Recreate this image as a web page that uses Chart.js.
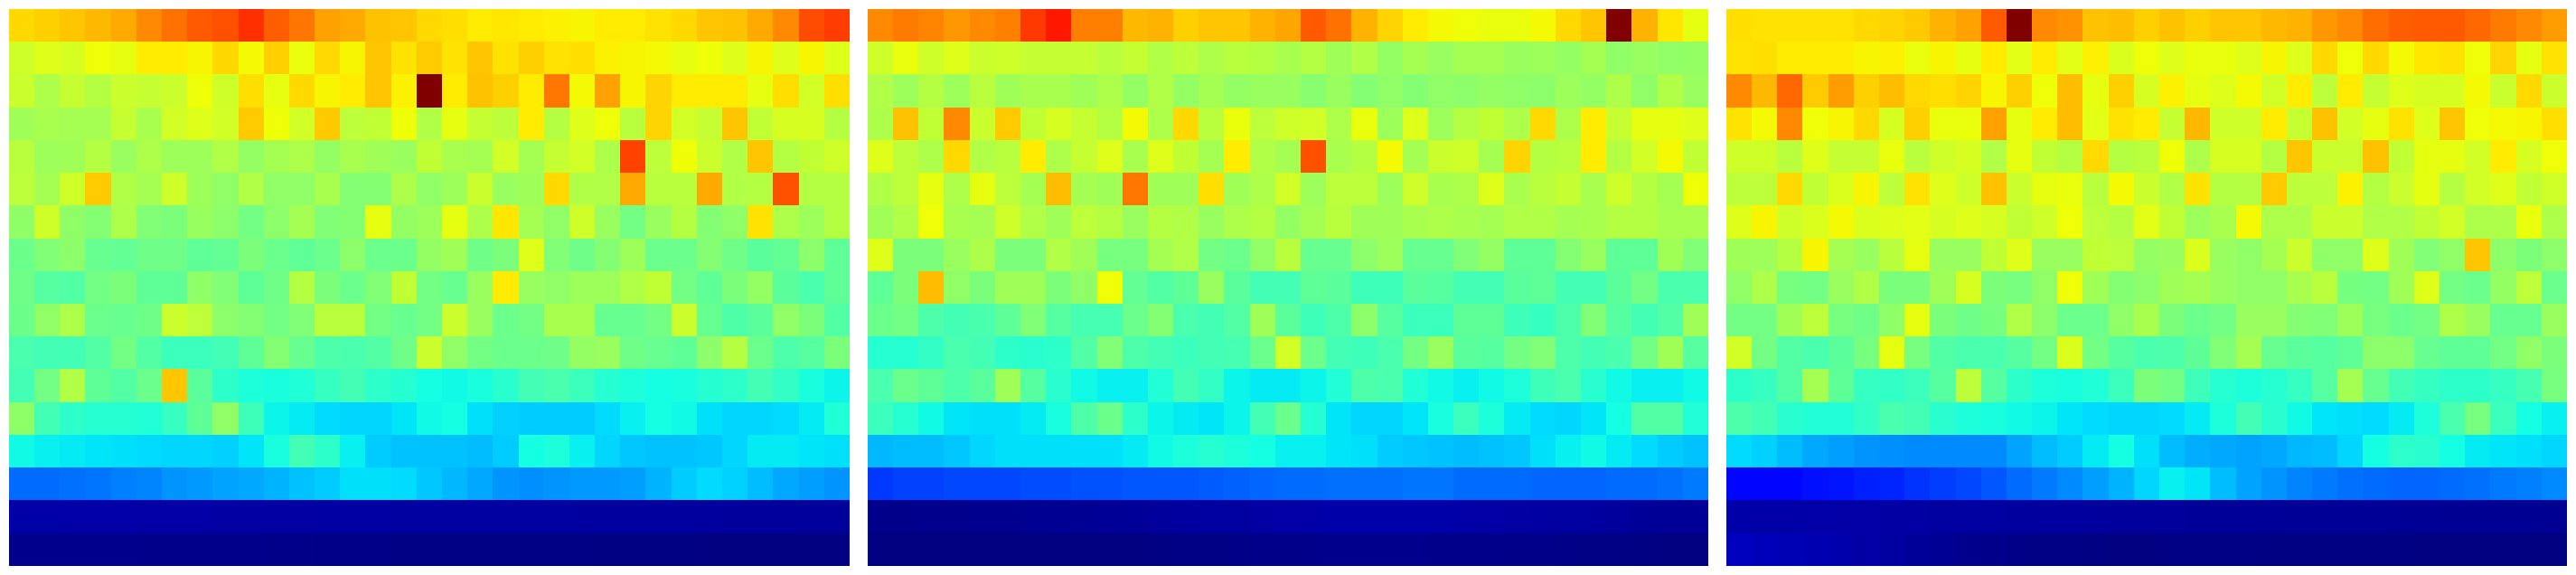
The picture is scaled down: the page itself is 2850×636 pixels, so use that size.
<!DOCTYPE html>
<html>
<head>
<meta charset="utf-8">
<title>Heatmaps</title>
<style>
    html, body { margin: 0; padding: 0; background: #ffffff; overflow: hidden; }
    canvas { position: absolute; top: 10px; }
    #heatA { left: 10px; }
    #heatB { left: 960px; }
    #heatC { left: 1910px; }
</style>
<script src="https://cdn.jsdelivr.net/npm/chart.js@4/dist/chart.umd.min.js"></script>
</head>
<body>
<canvas id="heatA" width="930" height="616"></canvas>
<canvas id="heatB" width="930" height="616"></canvas>
<canvas id="heatC" width="930" height="616"></canvas>
<script>
const columnLabels = ['1', '2', '3', '4', '5', '6', '7', '8', '9', '10', '11', '12', '13', '14', '15', '16', '17',
    '18', '19', '20', '21', '22', '23', '24', '25', '26', '27', '28', '29', '30', '31', '32', '33'];

// values, 0-100 on the jet scale, top row first
const heatA = [
    [68,69,70,71.5,73,76.5,79,81.5,82.5,86,81,78.5,74,73,70.5,70,68,67.5,66,66.5,66,65.5,65,66,66,67,68,70,70.5,73,76.5,83,84.5],
    [60,62,61,64,63,66,66,65,68,64.5,69,63.5,68,65,70,67,69.5,67,70,67,69,67,67.5,65.5,65,64.5,63,64,62,65,62,65,62],
    [59.5,56,59,57,59.5,59,59.5,64,60,67.5,63,68,65,66,70,65.5,100,66,70.5,69,66,78.5,64.5,74,65,68.5,66,66,66,63,67.5,60.5,67.5],
    [54.5,55.5,55,55,59,55.5,60.5,62,60.5,69.5,64,60.5,69.5,58,58.5,64,56.5,63,59,58,66,57,62,64,57.5,68.5,60.5,59,70,58.5,61,61,57],
    [57.5,54,54.5,57,53.5,56,54,54,56.5,53,55,56,53,55.5,54.5,53.5,58.5,55.5,55,60.5,55,59,60.5,56,84,58,64,59.5,56.5,70,57,58.5,60],
    [58,55,60,69.5,56.5,55,60,54,52.5,56.5,52.5,52.5,55.5,51,51,56,52.5,54,59.5,53.5,54.5,68,56.5,56.5,73,57.5,57.5,73,56.5,57,82.5,57,57],
    [52.5,60,52.5,51,56,50.5,50,53.5,52,49,52,55,50.5,51,63,53,54,63,56,66.5,55,52.5,60,53.5,49,53.5,57,51,52.5,67,56,54,57],
    [48,50.5,52,47.5,47,48.5,48.5,46.5,47,50,48,46.5,48,52,48,48,53,54.5,48.5,50,62,50.5,48.5,51,54,48,48,51,48.5,46,47,52,46.5],
    [48.5,45.5,45,49,50,46.5,46.5,52.5,50.5,46.5,48.5,57,50,48,50.5,58.5,49,47.5,53.5,66,53.5,52.5,54,54,56.5,58.5,49,46.5,50,53,46,44,46.5],
    [48,52.5,56,48,47.5,48.5,59.5,58,52,51,49,50.5,57.5,57.5,49,47.5,49,59.5,53.5,48,49,55.5,55.5,47.5,47.5,49,59.5,47.5,44.5,46,52.5,50,45],
    [44,43,43,45,49,45,42,42,43,46.5,51,47.5,44.5,44,45,48.5,59.5,52.5,49,48,48,48.5,53,53.5,48.5,47.5,46.5,52,57,48,44.5,45.5,50],
    [43,49,56.5,46.5,45,48,70,46,40.5,38.5,38,39,41.5,43,40.5,39.5,37.5,37,38,40,43,44,42,39.5,38.5,37.5,38,39.5,40.5,43,41,38,36.5],
    [52.5,43,40.5,39.5,39.5,39,41.5,46.5,52.5,42.5,36.5,35.5,34,33.5,33.5,35,37,37.5,34.5,33,32.5,32.5,32.5,34,36,37.5,37,34.5,33.5,33.5,34,35.5,39],
    [37,36,35.5,35,34.5,34,33.5,33.5,33,35,38,43,40.5,36,32.5,31.5,31.5,31.5,31,32.5,37.5,38.5,36,33.5,32,31.5,31.5,32,33.5,35.5,35.5,35,34.5],
    [23,23,23.5,24,25,25.5,27,27.5,28.5,29,30,31.5,32.5,34.5,34.5,34,32,30.5,29,27,26.5,27,27.5,27.5,28,30,32.5,34,33,31,29,28,27],
    [3.4,3.4,3.3,3.3,3.3,3.2,3.2,3.2,3.1,3.1,3.1,3.1,3,3,3,2.9,2.9,2.9,2.8,2.8,2.8,2.8,2.7,2.7,2.7,2.6,2.6,2.6,2.5,2.5,2.5,2.4,2.4],
    [1.2,1.2,1.1,1.1,1.1,1,1,1,0.9,0.9,0.7,0.7,0.6,0.6,0.6,0.5,0.5,0.5,0.5,0.4,0.4,0.4,0.4,0.3,0.3,0.2,0.2,0.1,0.1,0.1,0,0,0]
];

const heatB = [
    [76.5,78,77,75,76.5,77.5,85,88.5,77.5,77.5,71.5,72,69,70,70,72,73.5,81.5,79,72,68.5,66,64.5,64,63.5,63.5,64.5,68,70,100,72,66.5,63],
    [60,63.5,60,62,59.5,60,59,59,59,57.5,59,56.5,58,56,57.5,57,55.5,57,54.5,56.5,53,55,53.5,55,55,53.5,54,53,55,52.5,53.5,52.5,53],
    [56.5,54,57,54,57.5,54.5,55.5,55.5,54.5,56,53,56.5,53,55,53,53.5,53.5,51.5,53.5,51,52.5,51,52.5,52,53,52.5,52,54,53,56,52.5,56.5,53.5],
    [56,70.5,58.5,76.5,59.5,69.5,58.5,61,59,57,64.5,56,68,57.5,63.5,58,60,60.5,56,63.5,54,62,54,57,58.5,56,68,56,66,59,63,63,62],
    [62,58,56,68,56.5,57.5,66,56,59,62,55.5,62,58.5,55,66,56.5,55,82.5,55.5,57,64.5,55,59.5,60,55,68.5,57,57.5,66,57,60.5,64.5,58.5],
    [56.5,58,63,56,63,58,55,71,55,54.5,78.5,54.5,54.5,67.5,54.5,56,60.5,54,58,58,54,60,55.5,56,62,55.5,57.5,59,55.5,60,57,55,64],
    [54.5,56.5,64,55.5,55,60,56.5,54.5,58,57,53.5,57,56.5,53.5,56,57,53,55,57.5,54.5,54.5,55.5,56,55.5,55,56.5,56.5,55,55.5,57,57,55.5,55.5],
    [62,50,50,53.5,56,50,50,56.5,54.5,49.5,49.5,55,56.5,49,48,52.5,57.5,47.5,47.5,52,54,47.5,47.5,50.5,53,46.5,46.5,51,53.5,46.5,46.5,54.5,50.5],
    [46.5,50,71,52.5,50,54.5,54.5,50,52.5,64,47,45,46.5,53.5,46,43,43,46.5,46,42.5,42.5,46,45.5,43,43,46,46.5,43,43,46,49,44,44],
    [48,49,44.5,43,44,46.5,50.5,45.5,43.5,43.5,48,51,44,43,45,54.5,46,42.5,44.5,52,45.5,42,42,46.5,46.5,42.5,41.5,44.5,50.5,45.5,43,45,54.5],
    [39.5,39.5,41,44,43,40.5,40,40.5,45,50.5,44.5,43,42,43,43.5,48,60.5,48,43,42.5,44,49,53.5,46,45.5,49,50.5,44.5,43,44,49,54.5,45.5],
    [44,48,46.5,44.5,46,54.5,45.5,40,37,36,36,39,43,41,36.5,35.5,35.5,36.5,39,44.5,44,39,37,36,37,38.5,42.5,44,40,37,36,36,37],
    [42,39.5,37,35,34.5,34.5,35.5,38,44.5,48,40.5,36.5,35.5,35,36.5,43,48,39.5,35,33.5,33.5,35,38,42,38.5,35.5,34,33.5,35,37.5,45,45,39],
    [30.5,31,31,32,33.5,34.5,34.5,34.5,34.5,34.5,35.5,37,38.5,39.5,38.5,37.5,36,36,35,34.5,32.5,32,31.5,31,31.5,32,34.5,36,37,35.5,34,32.5,31.5],
    [18,19,19,19.5,19.5,19.5,20,20,20.5,20.5,21,21,21,21.5,22,22.5,23,23,23.5,23.5,23.5,24,24,23,23,23,22.5,22.5,22.5,23,23,23.5,24.5],
    [1,1,1.2,1.2,1.3,1.3,1.4,1.5,1.7,1.9,2.2,2.4,2.6,2.8,2.9,3.1,3.2,3.4,3.5,3.6,3.6,3.6,3.5,3.4,3.2,3.1,3,2.8,2.6,2.5,2.2,2,1.9],
    [0,0,0,0,0,0,0,0,0,0,0.1,0.3,0.4,0.5,0.6,0.7,0.8,1,1.1,1.1,1.1,1.1,1,1,0.9,0.8,0.7,0.6,0.5,0.4,0.2,0.1,0]
];

const heatC = [
    [67.5,67,67,67,67,68,68.5,69.5,72,74,81.5,100,76.5,75.5,70.5,71,69,70.5,69,70,70,71.5,72,75,76.5,79.5,81,81.5,81.5,80,78,76.5,74.5],
    [67,67.5,66,66,66,65,65.5,63.5,65,63,66,62.5,66,62.5,65.5,61.5,64,62,63.5,63.5,62,65,62,68,64,68,64.5,66.5,67,64,68.5,63,67],
    [76.5,71.5,80,69.5,74.5,69,71,68,67.5,68.5,65,69,64,71,63,69,61,65.5,63,62,64.5,60.5,66,58,66,59,62,61,61,64.5,59.5,68,59.5],
    [67,64.5,76.5,64,65,68,61,69,63.5,63.5,74,63,66,71,62.5,67,66,59,71.5,60,60,66,59,70.5,60.5,63,67,62,70,64,64.5,65,67.5],
    [60,60,57.5,62,59,59,63.5,57.5,60,61,56.5,63,58.5,57,68,57,57.5,64,56,61,61,57,70,59.5,59.5,70.5,58.5,63,63,60.5,66,61,64],
    [58,58,68,58.5,61.5,65,58,67,62,60,70.5,59.5,63,63.5,57.5,64.5,59.5,56.5,67,57,57,69.5,58,58,65.5,57,59.5,63,57,60.5,62,58.5,60],
    [62,65,60,61.5,64.5,61.5,62,62.5,61,62,61,58.5,60,64,58,57,62.5,58.5,54,55.5,64.5,56,56,59.5,59.5,56.5,56.5,58.5,60.5,56,56,63.5,56],
    [54.5,54,57,65,55,53.5,57.5,63,53.5,53.5,58.5,62,53.5,53.5,58.5,58,53,53.5,61.5,53.5,52.5,55,59.5,52.5,52.5,62,54.5,50.5,52.5,70,52,50,52],
    [52.5,56,49.5,49,53.5,56.5,50,50,54.5,61,50,49.5,52.5,64,54.5,51,52,54.5,55,53.5,52.5,52.5,55.5,57.5,49.5,49,54.5,62,49,48,53,58,48],
    [49,49,54.5,58,49.5,48.5,52.5,63,50,48.5,49.5,56.5,52,48,48,52.5,55.5,50,48,49,53.5,53.5,51,50.5,54,49.5,48,49,56,53.5,47.5,47.5,53.5],
    [60.5,49,45,44,46,49.5,63,49.5,45,44,44,45.5,49,61.5,49,45.5,44,44.5,46.5,50.5,55,47.5,46,45.5,46.5,52,52,47.5,46.5,46.5,49,52.5,50],
    [40.5,41.5,45,55,46.5,41.5,41,42,45.5,58,45.5,40.5,38.5,38,39,42,50,49,42.5,39.5,38.5,39.5,41.5,45.5,55,47.5,43,41.5,40.5,40.5,41.5,43.5,49.5],
    [44.5,43,40,39,39,41,44,43,40,38.5,38,37,36.5,35,34,33.5,33.5,34,35.5,38.5,43,40,37,35,34.5,34,35.5,38.5,44,49.5,42,37.5,36],
    [34,33,31,29,28,27,26.5,26,26,26,26,28.5,31,32.5,35.5,37.5,34.5,31,29.5,29,28.5,29,30.5,31,33.5,37.5,40.5,40,37.5,35.5,35,34.5,33.5],
    [13,13,13,14,14.5,15.5,16,17.5,18.5,19.5,21,23,24.5,26,28,30,33.5,36,35,31,28.5,27,25.5,24.5,23.5,23,22.5,22.5,23,23.5,24.5,25,26],
    [3.5,3.4,3.4,3.3,3.3,3.2,3.1,3.1,2.9,2.8,2.8,2.7,2.7,2.6,2.5,2.4,2.4,2.3,2.2,2.2,2.1,2.1,2,2,1.9,1.9,1.8,1.8,1.7,1.7,1.6,1.6,1.5],
    [5.5,5,4.5,4.2,3.8,3.2,2.8,2.2,1.8,1.2,1,0.6,0.5,0.4,0.2,0.1,0.1,0.5,0.5,0.5,0.4,0.3,0.3,0.3,0.2,0.2,0.2,0.1,0.1,0.1,0,0,0]
];

const rowCount = 17;

// breakpoints of the jet colormap: [position, level]
const jetRed = [[0, 0], [0.35, 0], [0.66, 1], [0.89, 1], [1, 0.5]];
const jetGreen = [[0, 0], [0.125, 0], [0.375, 1], [0.64, 1], [0.91, 0], [1, 0]];
const jetBlue = [[0, 0.5], [0.11, 1], [0.34, 1], [0.65, 0], [1, 0]];

function _Channel(stops, t) {
    for (let i = 1; i < stops.length; i++) {
        if (t <= stops[i][0]) {
            let f = (t - stops[i - 1][0]) / (stops[i][0] - stops[i - 1][0]);
            return Math.round(255 * (stops[i - 1][1] + f * (stops[i][1] - stops[i - 1][1])));
        }
    }
    return Math.round(255 * stops[stops.length - 1][1]);
}

function _JetColor(value) {
    let t = value / 100;
    return 'rgb(' + _Channel(jetRed, t) + ',' + _Channel(jetGreen, t) + ',' + _Channel(jetBlue, t) + ')';
}

// cells are drawn with hard edges, no seams between neighbours
function _Snap(v) {
    return Math.round(v - 0.1);
}

const snapCells = {
    id: 'snapCells',
    afterDatasetsUpdate: function (chart) {
        chart.data.datasets.forEach(function (_, i) {
            chart.getDatasetMeta(i).data.forEach(function (bar) {
                let left = _Snap(bar.x - bar.width / 2);
                let right = _Snap(bar.x + bar.width / 2);
                bar.x = (left + right) / 2;
                bar.width = right - left;
                bar.y = _Snap(bar.y);
                bar.base = _Snap(bar.base);
            });
        });
    }
};

function _BuildHeatmap(canvasId, rows) {
    let datasets = rows.map(function (row) {
        return {
            data: row.map(function () { return 1; }),
            backgroundColor: row.map(_JetColor),
            borderWidth: 0,
            inflateAmount: 0,
            barPercentage: 1,
            categoryPercentage: 1
        };
    });

    return new Chart(document.getElementById(canvasId), {
        type: 'bar',
        data: { labels: columnLabels, datasets: datasets },
        plugins: [snapCells],
        options: {
            responsive: false,
            animation: false,
            layout: { padding: 0 },
            plugins: {
                legend: { display: false },
                tooltip: { enabled: false }
            },
            scales: {
                x: { stacked: true, display: false },
                y: { stacked: true, display: false, reverse: true, min: 0, max: rowCount }
            }
        }
    });
}

_BuildHeatmap('heatA', heatA);
_BuildHeatmap('heatB', heatB);
_BuildHeatmap('heatC', heatC);
</script>
</body>
</html>
